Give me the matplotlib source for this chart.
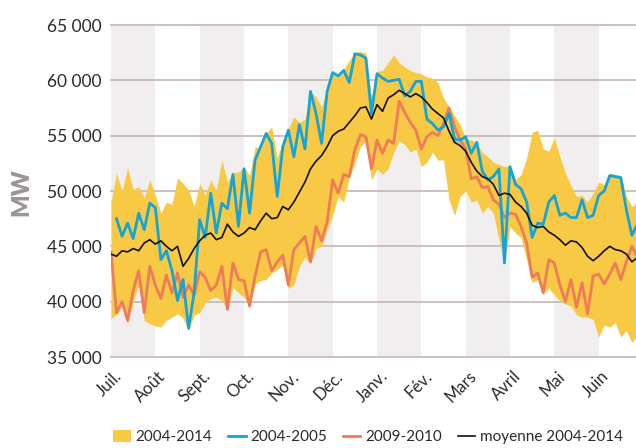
import numpy as np
import matplotlib
matplotlib.use("Agg")
import matplotlib.pyplot as plt
from matplotlib.patches import Patch
from matplotlib.lines import Line2D
from matplotlib.ticker import FuncFormatter
from matplotlib.transforms import ScaledTranslation

plt.rcParams['font.family'] = ['Lato', 'DejaVu Sans']

months = ['Juil.', 'Août', 'Sept.', 'Oct.', 'Nov.', 'Déc.', 'Janv.', 'Fév.',
          'Mars', 'Avril', 'Mai', 'Juin']

# values in thousand MW, 8 samples per month (July -> June)
band_upper = [49.0, 51.6, 50.0, 52.1, 50.1, 50.4, 49.4, 51.0,
              49.6, 48.0, 49.0, 48.8, 51.2, 50.7, 50.1, 48.6,
              50.7, 49.6, 51.0, 50.0, 52.8, 50.8, 51.7, 51.7,
              52.2, 51.4, 54.0, 53.8, 55.2, 55.8, 53.0, 54.5,
              55.6, 56.7, 56.2, 56.5, 59.0, 58.5, 57.6, 59.2,
              60.7, 60.5, 61.0, 61.8, 62.5, 62.6, 62.5, 58.5,
              60.8, 60.9, 61.6, 62.3, 61.6, 61.2, 60.9, 60.7,
              60.6, 60.3, 60.2, 59.8, 58.4, 57.6, 56.8, 56.0,
              54.8, 54.6, 54.3, 53.5, 53.1, 52.6, 52.4, 52.2,
              52.3, 51.0, 51.5, 53.0, 55.3, 55.5, 53.8, 53.6,
              54.8, 53.1, 51.6, 50.5, 49.5, 49.6, 49.0, 49.8,
              50.8, 50.6, 51.6, 51.5, 51.4, 49.5, 48.6, 49.0]

band_lower = [38.5, 38.8, 39.6, 38.0, 40.0, 41.5, 38.3, 38.0,
              37.8, 37.7, 38.3, 38.6, 38.9, 38.5, 37.4, 38.8,
              39.0, 39.9, 40.3, 40.4, 40.1, 39.3, 41.3, 40.8,
              40.4, 39.5, 41.6, 41.9, 42.0, 42.6, 42.9, 43.3,
              41.2, 41.5, 43.2, 44.0, 43.4, 44.8, 45.0, 46.5,
              47.8, 49.5, 49.0, 51.2, 52.5, 54.0, 54.5, 51.0,
              52.0, 51.5, 52.0, 53.5, 54.5, 54.2, 53.5, 53.8,
              52.2, 52.6, 53.5, 52.8, 52.8, 49.2, 47.8, 49.5,
              50.0, 49.0, 49.2, 48.0, 48.6, 48.0, 45.6, 43.5,
              46.8, 46.2, 45.8, 43.8, 41.7, 42.0, 40.7, 41.2,
              40.6, 40.1, 39.8, 39.6, 38.8, 38.6, 38.6, 38.4,
              36.8, 37.9, 37.7, 38.1, 36.8, 37.4, 36.3, 37.0]

s_2004_2005 = [np.nan, 47.5, 45.9, 47.1, 45.7, 48.0, 46.5, 48.9,
               48.5, 43.8, 44.6, 42.8, 40.1, 42.0, 37.6, 40.8,
               47.4, 45.8, 49.8, 46.2, 48.9, 48.4, 51.5, 46.8,
               52.0, 48.0, 52.8, 54.0, 55.2, 54.3, 49.5, 54.0,
               55.5, 53.1, 56.0, 53.8, 59.0, 57.0, 54.3, 59.0,
               60.7, 60.4, 60.9, 59.8, 62.4, 62.3, 62.0, 57.0,
               60.6, 60.2, 59.9, 60.0, 60.1, 58.6, 59.0, 59.9,
               59.9, 56.5, 56.1, 55.5, 55.8, 57.0, 54.7, 54.6,
               54.9, 53.4, 54.4, 51.8, 51.0, 51.3, 52.0, 43.5,
               52.2, 50.6, 50.2, 49.0, 45.8, 47.1, 47.0, 49.0,
               49.6, 47.8, 48.0, 47.6, 47.6, 49.2, 47.6, 47.8,
               49.6, 50.0, 51.4, 51.3, 51.2, 48.3, 46.0, 47.0]

s_2009_2010 = [44.5, 39.0, 40.0, 38.3, 41.0, 42.8, 39.0, 43.2,
               41.5, 40.3, 42.4, 40.8, 42.6, 40.4, 41.5, 40.6,
               42.7, 42.2, 41.0, 41.5, 43.2, 39.3, 43.5, 42.0,
               41.9, 39.6, 42.3, 44.5, 44.7, 42.8, 43.6, 44.2,
               41.5, 44.7, 45.3, 45.9, 43.6, 46.8, 45.5, 47.2,
               51.0, 49.8, 51.5, 51.3, 53.7, 55.1, 54.9, 52.0,
               54.6, 53.4, 54.6, 54.3, 58.1, 57.1, 56.2, 55.5,
               53.8, 54.9, 55.3, 55.0, 56.1, 57.5, 55.8, 54.6,
               53.8, 51.1, 51.3, 50.3, 50.4, 49.2, 48.8, 47.6,
               48.0, 47.9, 46.8, 45.3, 42.2, 42.6, 40.8, 43.8,
               43.5, 41.5, 40.0, 42.0, 39.5, 41.7, 38.9, 42.3,
               42.5, 41.6, 42.5, 43.5, 42.0, 43.6, 45.0, 44.0]

mean_2004_2014 = [44.3, 44.1, 44.6, 44.5, 44.8, 44.6, 45.3, 45.6,
                  45.2, 45.5, 45.0, 44.6, 45.0, 43.2, 43.9, 44.8,
                  45.5, 46.0, 46.2, 45.6, 45.8, 47.0, 46.3, 45.9,
                  46.2, 46.7, 46.5, 47.3, 48.0, 47.5, 47.6, 48.6,
                  48.3, 49.0, 49.9, 50.8, 52.0, 52.7, 53.2, 54.0,
                  55.0, 55.4, 55.6, 56.2, 56.8, 57.5, 57.6, 56.5,
                  57.8, 57.2, 58.4, 58.7, 59.1, 58.8, 58.5, 58.8,
                  58.5, 58.0, 57.4, 57.0, 56.6, 55.4, 54.4, 54.1,
                  53.6, 52.6, 51.8, 51.3, 51.1, 50.6, 49.6, 49.8,
                  49.7, 49.0, 48.6, 48.0, 46.9, 46.7, 46.8, 46.3,
                  46.0, 45.6, 45.1, 45.5, 45.4, 44.9, 44.1, 43.7,
                  44.1, 44.6, 45.0, 44.7, 44.6, 44.3, 43.6, 44.0]

legend_labels = ['2004-2014', '2004-2005', '2009-2010', 'moyenne 2004-2014']

C_BAND = '#f8c945'
C_BLUE = '#15a4d6'
C_ORANGE = '#ef7b58'
C_MEAN = '#111111'
C_SHADE = '#f0eeef'
C_GRID = '#c8bcb8'

n = len(mean_2004_2014)
x = np.arange(n) / 8.0
k = 1000.0
up = np.array(band_upper) * k
lo = np.array(band_lower) * k
b = np.array(s_2004_2005) * k
o = np.array(s_2009_2010) * k
m = np.array(mean_2004_2014) * k

fig = plt.figure(figsize=(6.36, 4.48), dpi=100)
W, H = 636, 448
ax = fig.add_axes([111 / W, (H - 357) / H, 532 / W, 332 / H])

for i in range(0, 12, 2):
    ax.axvspan(i, i + 1, color=C_SHADE, lw=0, zorder=0)
for yv in range(35000, 65001, 5000):
    ax.axhline(yv, color=C_GRID, lw=1.3, zorder=1, clip_on=False)

ax.fill_between(x, lo, up, color=C_BAND, lw=0, zorder=2)
ax.plot(x, o, color=C_ORANGE, lw=2.0, zorder=3)
ax.plot(x, b, color=C_BLUE, lw=2.0, zorder=4)
ax.plot(x, m, color=C_MEAN, lw=1.2, zorder=5)

ax.set_xlim(0, 12)
ax.set_ylim(35000, 65000)
for s in ax.spines.values():
    s.set_visible(False)

ax.set_yticks(range(35000, 65001, 5000))
ax.yaxis.set_major_formatter(FuncFormatter(lambda v, p: f"{v:,.0f}".replace(",", " ")))
ax.tick_params(axis='y', length=0, pad=7, labelsize=12.5, labelcolor='#2a2a2a')

ax.set_xticks(range(12))
ax.set_xticklabels(months, rotation=45, ha='right', va='center',
                   rotation_mode='anchor', fontsize=12, color='#2a2a2a')
ax.tick_params(axis='x', length=0, pad=12)
off = ScaledTranslation(0.08, 0, fig.dpi_scale_trans)
for lab in ax.get_xticklabels():
    lab.set_transform(lab.get_transform() + off)

fig.text(21 / W, 1 - 192 / H, 'MW', rotation=90, ha='center', va='center',
         fontsize=17, fontweight='heavy', color='#9c9595')

handles = [Patch(facecolor=C_BAND, edgecolor='none'),
           Line2D([], [], color=C_BLUE, lw=2.0),
           Line2D([], [], color=C_ORANGE, lw=2.0),
           Line2D([], [], color=C_MEAN, lw=1.2)]
fig.legend(handles, legend_labels, loc='center left', ncol=4,
           bbox_to_anchor=(113 / W, 1 - 437 / H), frameon=False,
           fontsize=11, handlelength=1.15, handleheight=0.9,
           handletextpad=0.3, columnspacing=1.05, borderaxespad=0,
           borderpad=0, labelcolor='#2a2a2a')

fig.savefig('out.png', dpi=100)
